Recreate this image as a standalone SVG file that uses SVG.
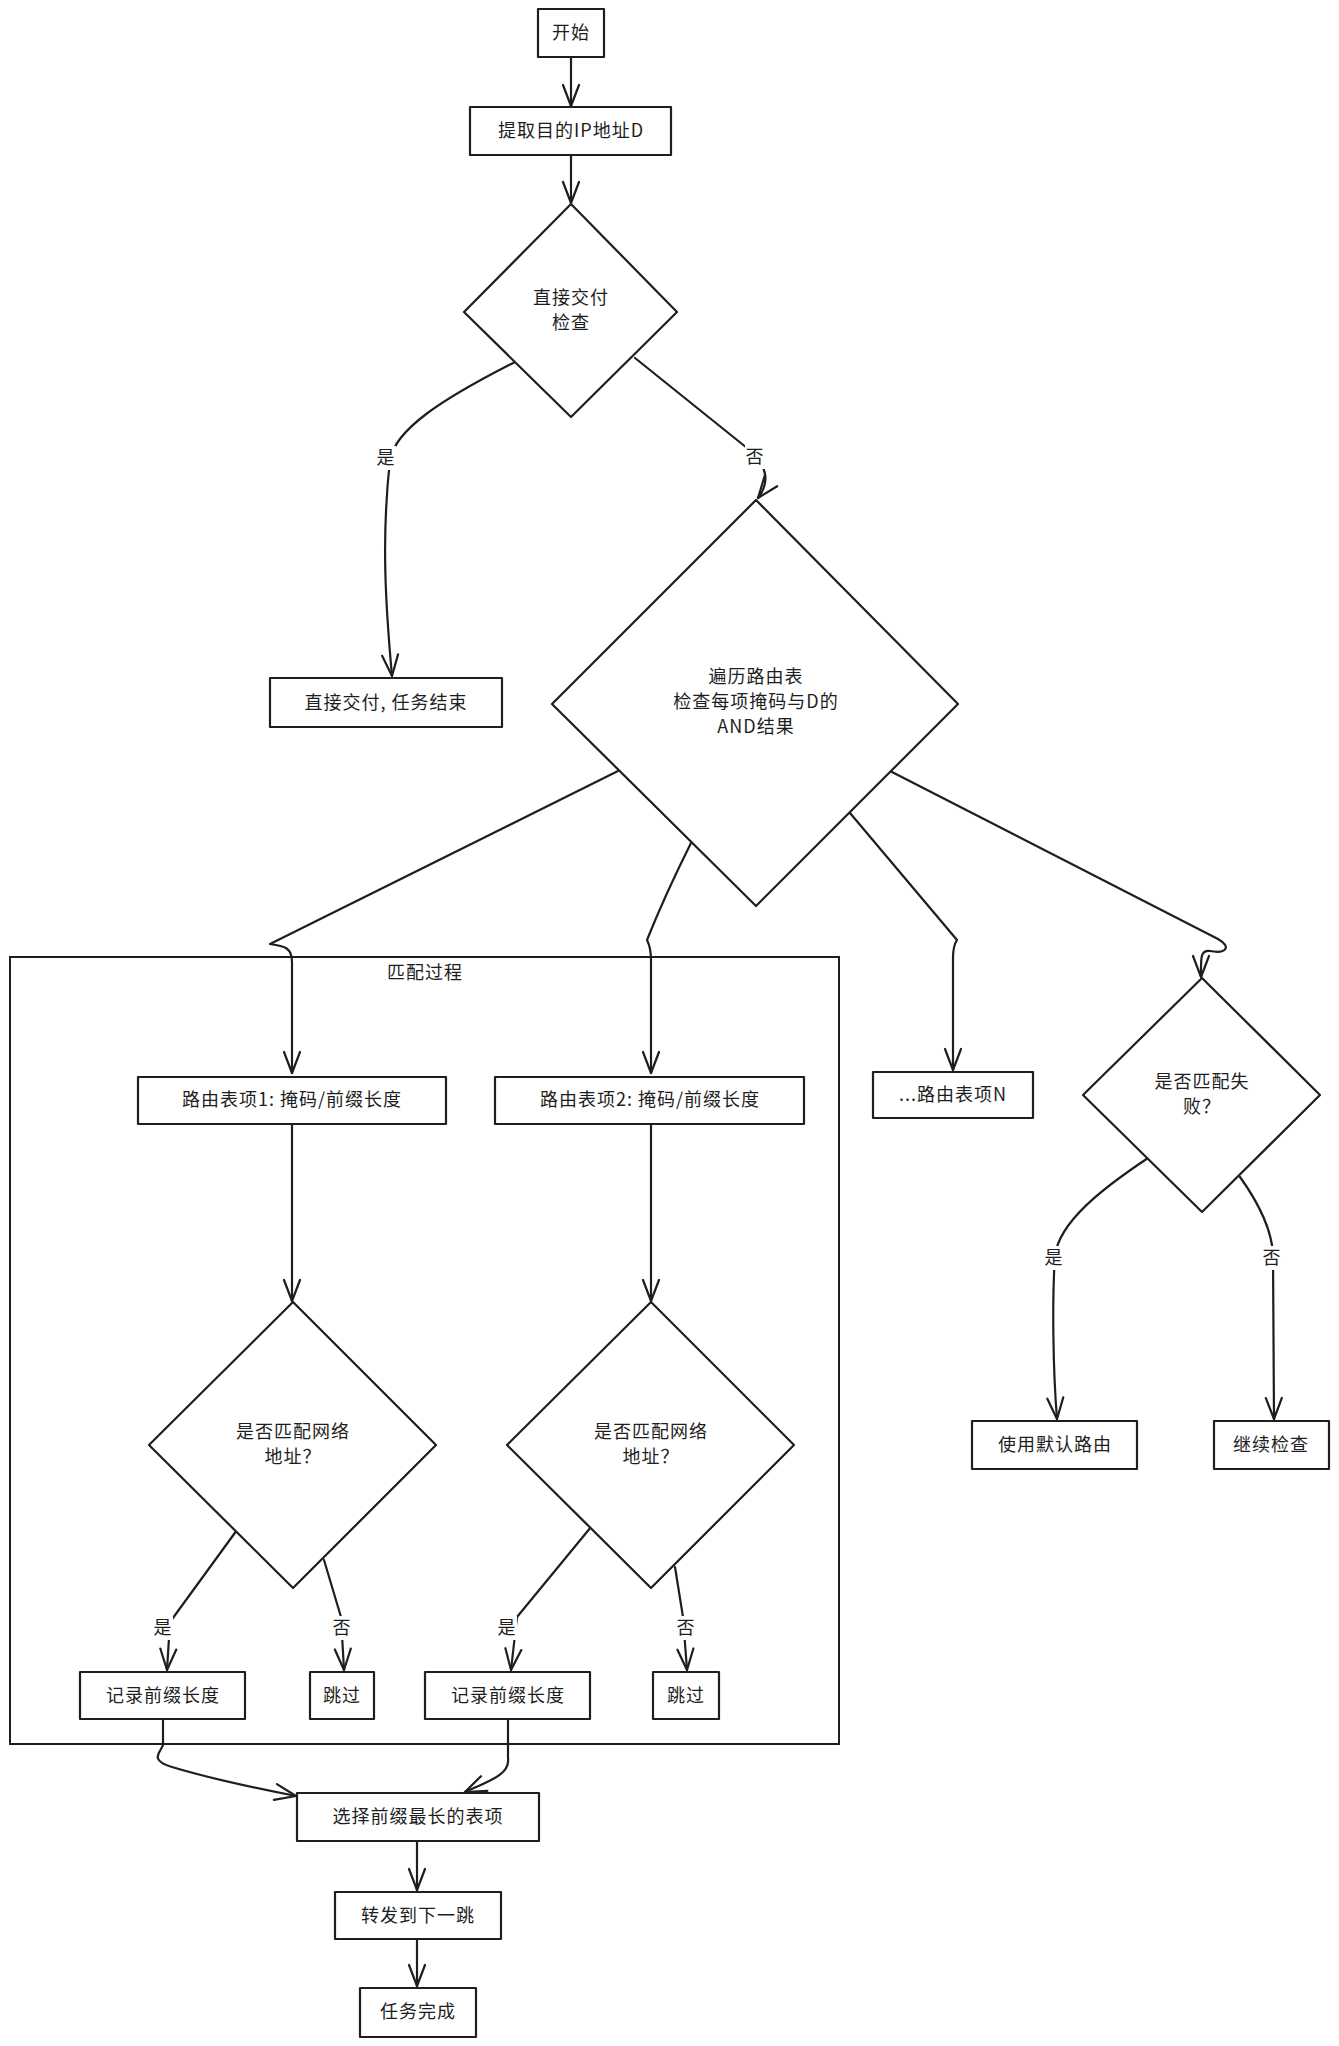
<svg xmlns="http://www.w3.org/2000/svg" width="1339" height="2046" viewBox="0 0 1339 2046">
<style>
.n{fill:#ffffff;stroke:#1e1e1e;stroke-width:2.2;stroke-linejoin:round}
.f{fill:none;stroke:#1e1e1e;stroke-width:2}
.t{font-family:"Noto Sans CJK SC","Noto Sans",sans-serif;font-size:18px;fill:#1e1e1e;text-anchor:middle;dominant-baseline:central;letter-spacing:1px;transform:translateY(-2px)}
.c{fill:none;stroke:#1e1e1e;stroke-width:2.2;stroke-linecap:round;stroke-linejoin:round;marker-end:url(#ah)}
.lb{fill:#ffffff}
</style>
<defs>
<marker id="ah" markerUnits="userSpaceOnUse" markerWidth="30" markerHeight="30" viewBox="-25 -12 30 24" refX="0" refY="0" orient="auto">
<path d="M-21,-8 L0,0 L-21,8" fill="none" stroke="#1e1e1e" stroke-width="2.2" stroke-linecap="round" stroke-linejoin="round"/>
</marker>
</defs>
<rect width="1339" height="2046" fill="#ffffff"/>

<g id="group-match">
<rect x="10" y="957" width="829" height="787" class="f"/>
<text class="t" x="425" y="973">匹配过程</text>
</g>

<g id="connectors">
<path class="c" d="M571,57 L571,106"/>
<path class="c" d="M571,155 L571,203"/>
<path class="c" d="M515,362 C440,400 395,430 390,460 C381,540 386,610 392,676"/>
<path class="c" d="M635,358 L752,452 C770,470 768,485 758,498"/>
<path class="c" d="M618,771 L270,944 C285,946 292,948 292,962 L292,1073"/>
<path class="c" d="M691,843 Q665,895 647,940 Q651,948 651,960 L651,1073"/>
<path class="c" d="M850,813 L957,940 Q953,946 953,958 L953,1070"/>
<path class="c" d="M892,772 L1218,939 C1232,947 1226,954 1210,951 C1200,950 1201,958 1201,977"/>
<path class="c" d="M292,1124 L292,1301"/>
<path class="c" d="M651,1124 L651,1301"/>
<path class="c" d="M237,1530 L170,1622 L167,1670"/>
<path class="c" d="M324,1560 L341,1617 L344,1670"/>
<path class="c" d="M591,1527 L517,1617 L511,1670"/>
<path class="c" d="M675,1567 L683,1617 L687,1670"/>
<path class="c" d="M163,1719 L163,1745 C161,1752 148,1760 172,1767 C205,1777 260,1789 296,1796"/>
<path class="c" d="M508,1719 L508,1758 C510,1774 492,1780 465,1792"/>
<path class="c" d="M417,1841 L417,1890"/>
<path class="c" d="M417,1939 L417,1986"/>
<path class="c" d="M1148,1158 C1100,1190 1060,1222 1055,1255 C1052,1300 1053,1370 1057,1419"/>
<path class="c" d="M1240,1177 C1260,1205 1272,1230 1273,1255 L1274,1419"/>
<rect class="lb" x="376" y="446" width="20" height="24"/>
<text class="t" x="386" y="458">是</text>
<rect class="lb" x="745" y="445" width="20" height="24"/>
<text class="t" x="755" y="457">否</text>
<rect class="lb" x="153" y="1616" width="20" height="24"/>
<text class="t" x="163" y="1628">是</text>
<rect class="lb" x="332" y="1616" width="20" height="24"/>
<text class="t" x="342" y="1628">否</text>
<rect class="lb" x="497" y="1616" width="20" height="24"/>
<text class="t" x="507" y="1628">是</text>
<rect class="lb" x="676" y="1616" width="20" height="24"/>
<text class="t" x="686" y="1628">否</text>
<rect class="lb" x="1044" y="1246" width="20" height="24"/>
<text class="t" x="1054" y="1258">是</text>
<rect class="lb" x="1262" y="1246" width="20" height="24"/>
<text class="t" x="1272" y="1258">否</text>
</g>

<g id="start"><rect class="n" x="538" y="9" width="66" height="48"/><text class="t" x="571" y="33">开始</text></g>
<g id="extract"><rect class="n" x="470" y="107" width="201" height="48"/><text class="t" x="571" y="131">提取目的IP地址D</text></g>
<g id="direct-check"><polygon class="n" points="571,204 677,312 571,417 464,312"/><text class="t" x="571" y="298">直接交付</text><text class="t" x="571" y="323">检查</text></g>
<g id="direct-end"><rect class="n" x="270" y="678" width="232" height="49"/><text class="t" x="386" y="703">直接交付, 任务结束</text></g>
<g id="traverse"><polygon class="n" points="756,500 958,704 756,906 552,704"/><text class="t" x="756" y="677">遍历路由表</text><text class="t" x="756" y="702">检查每项掩码与D的</text><text class="t" x="756" y="727">AND结果</text></g>
<g id="entry1"><rect class="n" x="138" y="1077" width="308" height="47"/><text class="t" x="292" y="1100">路由表项1: 掩码/前缀长度</text></g>
<g id="entry2"><rect class="n" x="495" y="1077" width="309" height="47"/><text class="t" x="650" y="1100">路由表项2: 掩码/前缀长度</text></g>
<g id="entryN"><rect class="n" x="873" y="1072" width="160" height="46"/><text class="t" x="953" y="1095">...路由表项N</text></g>
<g id="fail-check"><polygon class="n" points="1202,978 1320,1095 1202,1212 1083,1095"/><text class="t" x="1202" y="1082">是否匹配失</text><text class="t" x="1202" y="1107">败？</text></g>
<g id="default-route"><rect class="n" x="972" y="1421" width="165" height="48"/><text class="t" x="1055" y="1445">使用默认路由</text></g>
<g id="continue"><rect class="n" x="1214" y="1421" width="115" height="48"/><text class="t" x="1271" y="1445">继续检查</text></g>
<g id="match-a"><polygon class="n" points="293,1302 436,1445 293,1588 149,1445"/><text class="t" x="293" y="1432">是否匹配网络</text><text class="t" x="293" y="1457">地址？</text></g>
<g id="match-b"><polygon class="n" points="651,1302 794,1445 651,1588 507,1445"/><text class="t" x="651" y="1432">是否匹配网络</text><text class="t" x="651" y="1457">地址？</text></g>
<g id="record-a"><rect class="n" x="80" y="1672" width="165" height="47"/><text class="t" x="163" y="1696">记录前缀长度</text></g>
<g id="skip-a"><rect class="n" x="310" y="1672" width="64" height="47"/><text class="t" x="342" y="1696">跳过</text></g>
<g id="record-b"><rect class="n" x="425" y="1672" width="165" height="47"/><text class="t" x="508" y="1696">记录前缀长度</text></g>
<g id="skip-b"><rect class="n" x="653" y="1672" width="66" height="47"/><text class="t" x="686" y="1696">跳过</text></g>
<g id="select"><rect class="n" x="297" y="1793" width="242" height="48"/><text class="t" x="418" y="1817">选择前缀最长的表项</text></g>
<g id="forward"><rect class="n" x="335" y="1892" width="166" height="47"/><text class="t" x="418" y="1916">转发到下一跳</text></g>
<g id="done"><rect class="n" x="360" y="1988" width="116" height="49"/><text class="t" x="418" y="2012">任务完成</text></g>
</svg>
